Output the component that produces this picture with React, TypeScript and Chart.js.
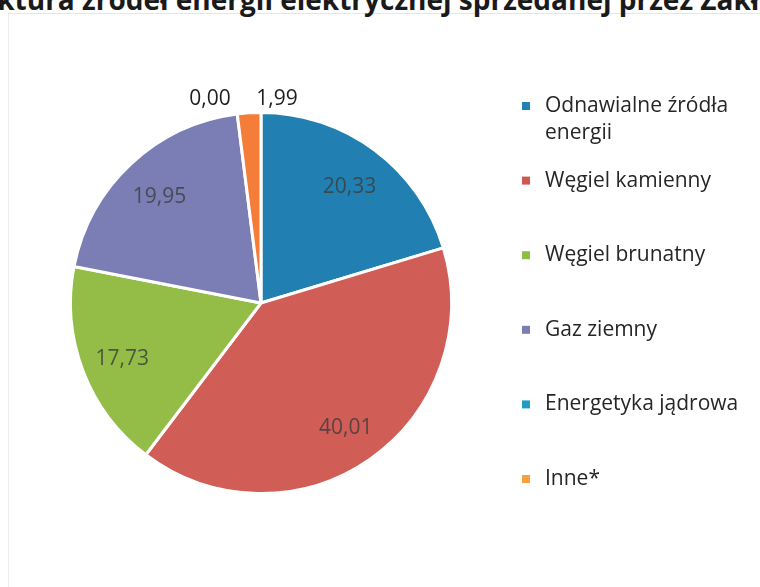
import React, { useEffect, useRef } from "react";
import { Chart, registerables } from "chart.js";

Chart.register(...registerables);

const categories = [
  "Odnawialne źródła energii",
  "Węgiel kamienny",
  "Węgiel brunatny",
  "Gaz ziemny",
  "Energetyka jądrowa",
  "Inne*",
];
const shares = [20.33, 40.01, 17.73, 19.95, 0.0, 1.99];
const valueLabels = ["20,33", "40,01", "17,73", "19,95", "0,00", "1,99"];
const sliceColors = ["#2180b1", "#d05d56", "#93bd46", "#7a7eb5", "#1e9cc2", "#f47d3a"];
const legendColors = ["#2180b6", "#cf5752", "#8fbb47", "#7a7eb0", "#1f9dc3", "#f7a03e"];
const titleText = "Rys. 1. Struktura źródeł energii elektrycznej sprzedanej przez Zakład";

const FONT = "'Open Sans', Lato, sans-serif";

function wrap(ctx: CanvasRenderingContext2D, text: string, maxW: number): string[] {
  const words = text.split(" ");
  const lines: string[] = [];
  let cur = "";
  for (const w of words) {
    const t = cur ? cur + " " + w : w;
    if (ctx.measureText(t).width > maxW && cur) {
      lines.push(cur);
      cur = w;
    } else cur = t;
  }
  if (cur) lines.push(cur);
  return lines;
}

const legendPlugin = {
  id: "sideLegend",
  afterDraw(chart: any) {
    const ctx = chart.ctx as CanvasRenderingContext2D;
    const labels = chart.data.labels as string[];
    ctx.save();
    ctx.font = `21px ${FONT}`;
    ctx.textBaseline = "middle";
    const x0 = 522;
    let y = 106;
    const step = 74.6;
    const lineH = 27;
    labels.forEach((lab, i) => {
      const lines = wrap(ctx, lab, 210);
      ctx.fillStyle = legendColors[i];
      ctx.fillRect(x0, y - 4, 8, 8);
      ctx.fillStyle = "#262626";
      ctx.textAlign = "left";
      lines.forEach((ln, k) => ctx.fillText(ln, x0 + 23, y + k * lineH));
      y += step;
    });
    ctx.restore();
  },
};

const valuePlugin = {
  id: "valueLabels",
  afterDatasetsDraw(chart: any) {
    const ctx = chart.ctx as CanvasRenderingContext2D;
    const meta = chart.getDatasetMeta(0);
    ctx.save();
    ctx.font = `21px ${FONT}`;
    ctx.textBaseline = "middle";
    ctx.textAlign = "center";
    let smallK = 0;
    meta.data.forEach((arc: any, i: number) => {
      const p = arc.getProps(["x", "y", "startAngle", "endAngle", "outerRadius"], true);
      const mid = (p.startAngle + p.endAngle) / 2;
      if (shares[i] >= 5) {
        const r = p.outerRadius * 0.78;
        ctx.fillStyle = "rgba(60,60,60,0.8)";
        ctx.fillText(valueLabels[i], p.x + Math.cos(mid) * r, p.y + Math.sin(mid) * r + 3);
      } else {
        ctx.fillStyle = "#1e1e1e";
        const lx = p.x - 51 + smallK * 67;
        const ly = p.y - p.outerRadius - 13;
        ctx.fillText(valueLabels[i], lx, ly);
        smallK++;
      }
    });
    ctx.restore();
  },
};

export default function App() {
  const ref = useRef<HTMLCanvasElement>(null);
  useEffect(() => {
    if (!ref.current) return;
    const chart = new Chart(ref.current, {
      type: "pie",
      data: {
        labels: categories,
        datasets: [
          {
            data: shares,
            backgroundColor: sliceColors,
            borderColor: "#ffffff",
            borderWidth: 3,
          },
        ],
      },
      options: {
        animation: false,
        responsive: false,
        layout: { padding: { left: 69, top: 111, right: 307, bottom: 92 } },
        plugins: {
          legend: { display: false },
          tooltip: { enabled: false },
          title: { display: false },
        },
      },
      plugins: [valuePlugin, legendPlugin],
    });
    return () => chart.destroy();
  }, []);
  return (
    <div style={{ position: "fixed", left: 0, top: 0, width: 760, height: 587, background: "#fff", overflow: "hidden" }}>
      <div
        style={{
          position: "absolute",
          left: 8,
          top: 13,
          width: 760,
          height: 600,
          borderTop: "1px solid #e6e6e6",
          borderLeft: "1px solid #ececec",
        }}
      />
      <div
        style={{
          position: "absolute",
          right: -34,
          top: -15,
          whiteSpace: "nowrap",
          font: `bold 28px ${FONT}`,
          lineHeight: "28px",
          color: "#1a1a1a",
        }}
      >
        {titleText}
      </div>
      <canvas ref={ref} width={760} height={587} style={{ position: "absolute", left: 0, top: 0 }} />
    </div>
  );
}
